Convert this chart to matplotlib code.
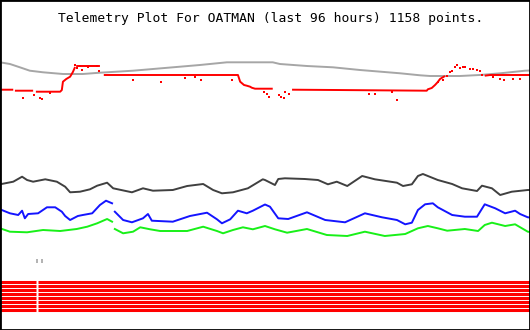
import numpy as np
import matplotlib
matplotlib.use("Agg")
import matplotlib.pyplot as plt

nan = np.nan

title = "Telemetry Plot For OATMAN (last 96 hours) 1158 points."

# x = hours into the 96 hour window, y = plotted level (screen-depth units, axis inverted)
gray_h = [0, 1.8, 3.6, 5.4, 7.8, 11.4, 15.0, 18.1, 24.1, 32.6, 36.2, 41.1, 49.4, 50.7,
          55.6, 60.3, 65.2, 72.5, 76.1, 77.9, 83.3, 86.9, 90.6, 95.1, 96]
gray_v = [62.3, 64, 67.3, 70.7, 72.3, 74, 74, 72.7, 70.7, 66.7, 65, 62.3, 62.3, 64,
          66, 67.3, 70, 73.3, 75.3, 76, 76, 75, 73.3, 70.7, 70.5]

red_h = [0, 2.4, nan, 2.7, 6.0, nan, 6.5, 10.9, 11.2, 11.4, 12.0, 12.7, 13.2, 13.6, nan,
         13.8, 18.1, nan, 18.8, 43.1, 43.5, 44.2, 44.7, 45.3, 45.6, 46.2, 49.4, nan,
         52.9, 60.7, 77.3, 77.5, 78.2, 78.8, 79.3, 79.7, 80.6, nan, 87.8, 88.8, 96]
red_v = [89.7, 89.7, nan, 90.7, 90.7, nan, 91.7, 91.7, 90, 81.7, 79, 76.7, 72, 67, nan,
         66, 66, nan, 75, 75, 81.7, 85, 85.7, 86.7, 87.7, 88.7, 88.7, nan,
         89.7, 90, 90.7, 89.3, 88, 85, 82, 79, 76, nan, 75.7, 75, 75]

red_pts_h = [4.1, 6.2, 7.2, 7.6, 9.1, 13.6, 13.9, 14.5, 14.8, 16.0, 17.6, 17.9, 24.1, 29.2,
             33.5, 35.3, 36.4, 42.0, 47.8, 48.4, 48.7, 50.5, 50.9, 51.4, 51.6, 52.3,
             66.8, 67.9, 71.0, 71.9, 79.3, 80.2, 81.0, 81.5, 81.9, 82.4, 82.8, 83.3,
             83.9, 84.2, 85.1, 85.7, 86.4, 86.9, 87.3, 89.3, 90.6, 91.3, 92.9, 94.2]
red_pts_v = [97.7, 95, 97.7, 98.7, 92.7, 65, 67.7, 65.7, 70, 66.7, 65.7, 71, 80, 82,
             77.7, 77, 80, 80, 91.7, 94.3, 96.7, 95, 97, 98.3, 91.7, 93.7,
             94, 94, 91.7, 100.3, 82, 80, 75.7, 72, 71, 67, 65.3, 68,
             67, 66.7, 68.7, 69, 70, 71, 75, 76.7, 79.3, 80, 79.3, 79.3]

black_h = [0, 2.4, 4.0, 4.9, 6.0, 8.2, 10.3, 11.8, 12.7, 14.5, 16.3, 17.6, 19.4, 20.5,
           23.9, 25.9, 27.7, 31.3, 33.9, 36.8, 38.6, 40.2, 42.2, 44.9, 47.6, 48.0,
           49.8, 50.4, 51.6, 55.2, 57.6, 59.4, 61.0, 62.9, 65.6, 67.9, 71.9, 73.0,
           74.6, 75.7, 76.6, 79.3, 81.9, 83.7, 86.4, 87.3, 89.1, 90.6, 92.7, 95.6, 96]
black_v = [184.3, 181.7, 176.7, 180, 181.7, 179.3, 181.7, 186.7, 192.3, 191.7, 189.3,
           185.7, 182.7, 188.3, 192.3, 188.3, 190.7, 190, 186, 184, 190, 193.3, 192.3,
           188.3, 179.3, 180, 185, 179, 178.3, 179, 180, 184.3, 181.7, 186, 176,
           179.3, 182.7, 186, 184.3, 176, 174, 180, 184, 188.3, 191, 185.7, 188.3,
           195, 191.7, 190, 190]

blue_h = [0, 1.8, 3.3, 4.0, 4.5, 5.1, 6.9, 8.5, 10.0, 11.2, 11.8, 12.7, 14.1, 15.0,
          16.7, 18.1, 19.2, 20.3, nan, 20.8, 22.3, 23.9, 25.9, 26.8, 27.5, 31.3, 34.4,
          37.5, 39.3, 40.2, 41.7, 43.1, 44.7, 45.8, 48.0, 48.9, 50.4, 52.2, 55.6,
          58.9, 62.5, 66.1, 69.2, 71.9, 73.4, 74.6, 75.7, 77.0, 78.4, 79.3, 81.9,
          84.2, 86.4, 87.8, 89.7, 91.5, 93.3, 94.2, 95.6, 96]
blue_v = [209.3, 213.3, 215, 210.7, 218.3, 214, 213.3, 207.3, 207.3, 211.7, 216, 220,
          216, 215, 213.3, 205, 200.7, 203.3, nan, 211.7, 220, 222.3, 218.3, 214, 220.7,
          221.7, 216, 212.7, 219.3, 223.3, 219.3, 210.7, 213.3, 210.7, 204.5, 206.7,
          218.3, 219, 212.3, 220, 222.3, 213.3, 217.3, 220, 224.3, 222.7, 210, 204.3,
          203.3, 207.3, 215, 216.7, 216.7, 204.3, 208.3, 213.3, 210.7, 214, 217.3, 217.5]

green_h = [0, 1.8, 4.9, 7.8, 10.9, 13.9, 15.8, 17.6, 19.4, 20.3, nan, 20.8, 22.3, 24.1,
           25.4, 27.2, 29.0, 33.9, 36.8, 39.3, 40.4, 42.2, 44.0, 45.8, 48.0, 49.8,
           52.0, 55.6, 59.2, 62.9, 66.1, 69.7, 73.4, 75.7, 77.5, 79.3, 81.0, 84.2,
           86.6, 87.8, 89.1, 91.5, 93.3, 95.6, 96]
green_v = [228.3, 231.7, 232.3, 230, 231, 229, 226.7, 223.3, 219, 221.7, nan, 229, 233.3,
           231.7, 227.3, 229.3, 231, 231, 226.7, 231, 233.3, 230, 227.3, 229.3, 226,
           229.3, 232.7, 229, 235, 236, 231.7, 236, 234, 228.3, 226, 228.3, 230.7,
           229, 231, 225, 222.7, 226, 224.3, 231.7, 232]

# flat red status channels at the bottom, with one missing sample
bar_levels = [281.5, 285.5, 289.5, 293.5, 297.5, 301.5, 305.5, 309.5]
bar_gap_h = [6.6, 6.9]

gray_tick_h = [6.7, 7.6]
gray_tick_v = [261, 261]

fig = plt.figure(figsize=(5.3, 3.3), dpi=100)
ax = fig.add_axes([0, 0, 1, 1])
ax.set_xlim(0, 96)
ax.set_ylim(330, 0)
ax.set_xticks([])
ax.set_yticks([])
for s in ax.spines.values():
    s.set_color("black")
    s.set_linewidth(2.0)

lw = 1.4
ax.plot(gray_h, gray_v, color="#a6a6a6", lw=lw, solid_capstyle="butt")
ax.plot(red_h, red_v, color="#ff0000", lw=lw, solid_capstyle="butt")
ax.plot(red_pts_h, red_pts_v, ls="none", marker="s", ms=1.5, mew=0, color="#ff0000")
ax.plot(black_h, black_v, color="#404040", lw=lw)
ax.plot(blue_h, blue_v, color="#1414ff", lw=lw)
ax.plot(green_h, green_v, color="#18f018", lw=lw)

for lv in bar_levels:
    ax.hlines(lv, 0, bar_gap_h[0], color="#ff0000", lw=2.2)
    ax.hlines(lv, bar_gap_h[1], 96, color="#ff0000", lw=2.2)

ax.plot(gray_tick_h, gray_tick_v, ls="none", marker="|", ms=2.5, mew=1.2, color="#a6a6a6")

fig.text(271 / 530, 1 - 21.7 / 330, title, ha="center", va="baseline",
         family="DejaVu Sans Mono", fontsize=9.4, color="black")

fig.savefig("out.png", dpi=100)
